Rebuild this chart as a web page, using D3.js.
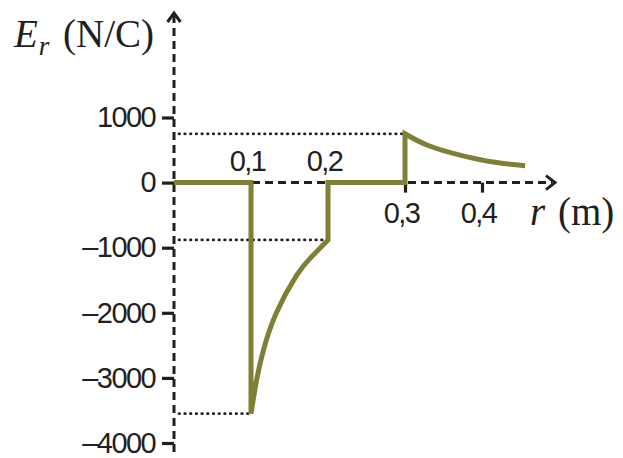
<!DOCTYPE html>
<html>
<head>
<meta charset="utf-8">
<script src="https://cdn.jsdelivr.net/npm/d3@7"></script>
<style>
  html, body { margin: 0; padding: 0; background: #fff; }
  svg { display: block; }
</style>
</head>
<body>
<svg id="chart" width="623" height="458"></svg>
<script>
// ---- data ----
const xTicks = [0.1, 0.2, 0.3, 0.4];
const xTickLabels = ["0,1", "0,2", "0,3", "0,4"];
const yTicks = [1000, 0, -1000, -2000, -3000, -4000];
const yTickLabels = ["1000", "0", "\u20131000", "\u20132000", "\u20133000", "\u20134000"];

// piecewise field: zero inside, curve in shell, zero, curve outside
const innerR = [0, 0.1];
const innerE = [0, 0];
const shellR = [0.1, 0.107, 0.116, 0.133, 0.159, 0.177, 0.2];
const shellE = [-3550, -3050, -2580, -2000, -1430, -1160, -880];
const gapR = [0.2, 0.3];
const gapE = [0, 0];
const outerR = [0.3, 0.33, 0.374, 0.417, 0.456];
const outerE = [750, 570, 415, 312, 260];

// dotted guide levels
const guideE = [750, -880, -3550];
const guideR = [0.3, 0.2, 0.1];

const svg = d3.select("#chart");
const x = d3.scaleLinear().domain([0, 0.4]).range([174, 482]);
const y = d3.scaleLinear().domain([-4000, 1000]).range([443, 117.5]);

const ink = "#231f20";
const olive = "#7f8035";

// ---- dotted guides ----
guideE.forEach((e, i) => {
  svg.append("line")
    .attr("x1", x(0) + 5).attr("x2", x(guideR[i]))
    .attr("y1", y(e)).attr("y2", y(e))
    .attr("stroke", ink).attr("stroke-width", 2.7)
    .attr("stroke-linecap", "round")
    .attr("stroke-dasharray", "0.6,5.1");
});

// ---- dashed axes ----
svg.append("line")
  .attr("x1", x(0)).attr("x2", x(0))
  .attr("y1", 452).attr("y2", 16)
  .attr("stroke", ink).attr("stroke-width", 3)
  .attr("stroke-dasharray", "8,5");
svg.append("line")
  .attr("x1", x(0)).attr("x2", 552)
  .attr("y1", y(0)).attr("y2", y(0))
  .attr("stroke", ink).attr("stroke-width", 3)
  .attr("stroke-dasharray", "8,5");

// arrowheads
svg.append("path")
  .attr("d", `M${x(0) - 6.5},${22} L${x(0)},${13} L${x(0) + 6.5},${22}`)
  .attr("fill", "none").attr("stroke", ink).attr("stroke-width", 3);
svg.append("path")
  .attr("d", `M${546},${y(0) - 7} L${555},${y(0)} L${546},${y(0) + 7}`)
  .attr("fill", "none").attr("stroke", ink).attr("stroke-width", 3);

// ---- y axis ticks & labels ----
const sans = "'Liberation Sans', Arial, sans-serif";
const yAxis = d3.axisLeft(y)
  .tickValues(yTicks)
  .tickFormat((d, i) => yTickLabels[i])
  .tickSize(12)
  .tickPadding(7);
const gy = svg.append("g").attr("transform", `translate(${x(0)},0)`).call(yAxis);
gy.select(".domain").remove();
gy.selectAll(".tick line").attr("stroke", ink).attr("stroke-width", 3.2);
gy.selectAll(".tick text")
  .attr("fill", ink)
  .style("font-family", sans)
  .style("font-size", "29px")
  .style("letter-spacing", "-1.6px");

// ---- x axis ticks & labels ----
const xAxis = d3.axisBottom(x)
  .tickValues(xTicks)
  .tickFormat((d, i) => xTickLabels[i])
  .tickSize(10)
  .tickPadding(8);
const gx = svg.append("g").attr("transform", `translate(0,${y(0)})`).call(xAxis);
gx.select(".domain").remove();
gx.selectAll(".tick line").attr("stroke", ink).attr("stroke-width", 3.2);
gx.selectAll(".tick text")
  .attr("fill", ink)
  .attr("dx", -4)
  .style("font-family", sans)
  .style("font-size", "29px")
  .style("letter-spacing", "-1.6px")
  .each(function(d) {
    d3.select(this).attr("y", d < 0.25 ? -32 : 20);
  });

// ---- the field curve as one continuous path ----
const ctx = d3.path();
let started = false;
const proxy = {
  moveTo(a, b) { if (!started) { ctx.moveTo(a, b); started = true; } else ctx.lineTo(a, b); },
  lineTo(a, b) { ctx.lineTo(a, b); },
  bezierCurveTo(a, b, c, d, e, f) { ctx.bezierCurveTo(a, b, c, d, e, f); },
  closePath() {}
};
function seg(rs, es, curve) {
  const pts = rs.map((r, i) => [r, es[i]]);
  d3.line().x(d => x(d[0])).y(d => y(d[1])).curve(curve).context(proxy)(pts);
}
seg(innerR, innerE, d3.curveLinear);
seg(shellR, shellE, d3.curveNatural);
seg(gapR, gapE, d3.curveLinear);
seg(outerR, outerE, d3.curveNatural);

svg.append("path")
  .attr("d", ctx.toString())
  .attr("fill", "none")
  .attr("stroke", olive)
  .attr("stroke-width", 5)
  .attr("stroke-linejoin", "miter")
  .attr("stroke-miterlimit", 3);

// ---- axis titles ----
const serif = "'Liberation Serif', 'Times New Roman', serif";
const ty = svg.append("text")
  .attr("x", 14).attr("y", 47)
  .attr("fill", ink)
  .style("font-family", serif)
  .style("font-size", "39px");
ty.append("tspan").style("font-style", "italic").text("E");
ty.append("tspan").style("font-style", "italic").style("font-size", "27px")
  .attr("dx", 1).attr("dy", 8).text("r");
ty.append("tspan").attr("dx", 4).attr("dy", -8).text(" (N/C)");

const tx = svg.append("text")
  .attr("x", 530).attr("y", 225)
  .attr("fill", ink)
  .style("font-family", serif)
  .style("font-size", "39px");
tx.append("tspan").style("font-style", "italic").text("r");
tx.append("tspan").attr("dx", 3).text(" (m)");
</script>
</body>
</html>
